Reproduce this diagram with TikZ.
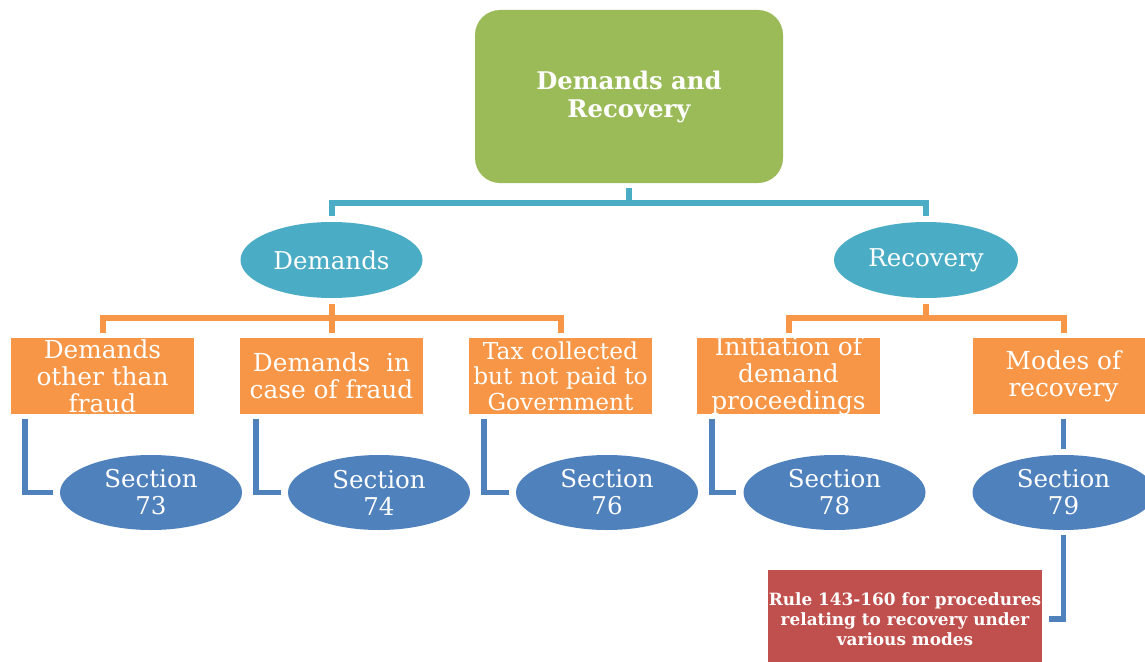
\documentclass[tikz,border=0pt]{standalone}
\usepackage{fontspec}
\setmainfont{DejaVu Serif}
\usetikzlibrary{shapes.geometric}

\definecolor{rootgreen}{HTML}{9BBB59}
\definecolor{topicteal}{HTML}{4BACC6}
\definecolor{leaforange}{HTML}{F79646}
\definecolor{secblue}{HTML}{4F81BD}
\definecolor{rulered}{HTML}{C0504D}

\begin{document}
\begin{tikzpicture}[x=1pt, y=-1pt,
  rootbox/.style={rectangle, rounded corners=25pt, fill=rootgreen,
    minimum width=308pt, minimum height=173pt, inner sep=0pt,
    text=white, align=center, font=\bfseries\fontsize{24.3}{28}\selectfont},
  topic/.style={ellipse, fill=topicteal, minimum width=182pt,
    minimum height=76pt, inner sep=0pt, text=white,
    font=\fontsize{24.5}{27}\selectfont},
  leafbox/.style={rectangle, fill=leaforange, minimum width=183pt,
    minimum height=76pt, inner sep=0pt, text=white, align=center,
    font=\fontsize{24.8}{27}\selectfont},
  secnode/.style={ellipse, fill=secblue, minimum width=182pt,
    minimum height=75pt, inner sep=0pt, text=white, align=center,
    font=\fontsize{24.5}{27}\selectfont},
  rulebox/.style={rectangle, fill=rulered, minimum width=274pt,
    minimum height=98pt, inner sep=0pt, text=white, align=center,
    font=\bfseries\fontsize{16.9}{20}\selectfont},
  tealline/.style={draw=topicteal, line width=6pt, shorten <=5pt, shorten >=6pt},
  orangeline/.style={draw=leaforange, line width=6pt, shorten <=6pt, shorten >=5pt},
  blueline/.style={draw=secblue, line width=5.5pt, shorten <=5pt, shorten >=7pt},
]
\path[use as bounding box, clip] (0,0) rectangle (1145,661);
\fill[white] (0,0) rectangle (1145,661);

% root
\node[rootbox] (root) at (629,96.5) {Demands and\\Recovery};

% second level
\node[topic] (dem) at (331.5,260) {Demands};
\node[topic, minimum width=184pt] (rec) at (926,260) {Recovery};

% third level
\node[leafbox] (b1) at (102.5,376) {Demands\\other than\\fraud};
\node[leafbox] (b2) at (331.5,376) {Demands~ in\\case of fraud};
\node[leafbox, font=\fontsize{23.3}{25.5}\selectfont] (b3) at (560.5,376) {Tax collected\\but not paid to\\Government};
\node[leafbox, inner ysep=-4pt] (b4) at (788.5,376) {Initiation of\\demand\\proceedings};
\node[leafbox, minimum width=181pt] (b5) at (1063.5,376) {Modes of\\recovery};

% sections
\node[secnode] (s73) at (151,492.5) {Section\\73};
\node[secnode] (s74) at (379,492.5) {Section\\74};
\node[secnode] (s76) at (607,492.5) {Section\\76};
\node[secnode] (s78) at (834.5,492.5) {Section\\78};
\node[secnode] (s79) at (1063.5,492.5) {Section\\79};

% rules
\node[rulebox] (rule) at (905,619) {Rule 143-160 for procedures\\relating to recovery under\\various modes};

% root to topics
\draw[tealline] (root.south) -- ++(0,20) -| (dem.north);
\draw[tealline] (root.south) -- ++(0,20) -| (rec.north);

% topics to boxes
\draw[orangeline] (dem.south) -- ++(0,20) -| (b1.north);
\draw[orangeline] (dem.south) -- (b2.north);
\draw[orangeline] (dem.south) -- ++(0,20) -| (b3.north);
\draw[orangeline] (rec.south) -- ++(0,20) -| (b4.north);
\draw[orangeline] (rec.south) -- ++(0,20) -| (b5.north);

% boxes to sections
\draw[blueline] ([xshift=14pt]b1.south west) |- (s73.west);
\draw[blueline] ([xshift=16pt]b2.south west) |- (s74.west);
\draw[blueline] ([xshift=15pt]b3.south west) |- (s76.west);
\draw[blueline] ([xshift=15pt]b4.south west) |- (s78.west);
\draw[blueline, shorten >=6pt] (b5.south) -- (s79.north);
\draw[blueline] (s79.south) |- (rule.east);
\end{tikzpicture}
\end{document}
